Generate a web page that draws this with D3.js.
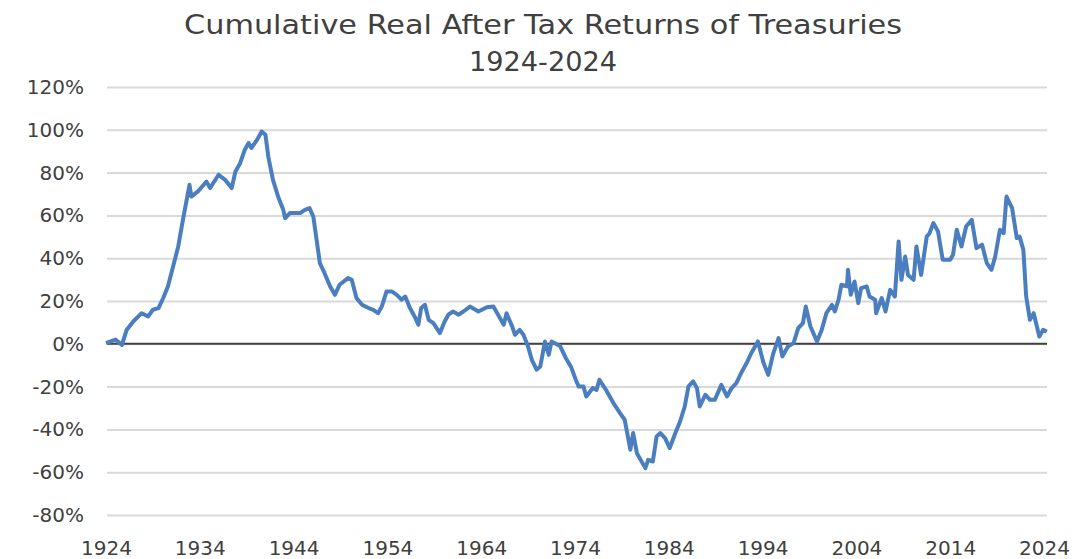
<!DOCTYPE html>
<html>
<head>
<meta charset="utf-8">
<title>Cumulative Real After Tax Returns of Treasuries</title>
<style>
  body { margin: 0; background: #fff; }
  svg text { font-family: "DejaVu Sans", "Open Sans", sans-serif; fill: #404040; }
  .grid line { stroke: #d9d9d9; stroke-width: 2; }
  .grid path { display: none; }
  .axis path, .axis line { display: none; }
</style>
</head>
<body>
<svg width="1081" height="559"></svg>
<script src="https://cdn.jsdelivr.net/npm/d3@7"></script>
<script>

// data (year, cumulative real after-tax return in %)
var years = [
  1924.0, 1925.0, 1925.7, 1926.2, 1926.9, 1927.8, 1928.5, 1929.0, 1929.6, 1930.1,
  1930.6, 1931.2, 1931.7, 1932.2, 1932.6, 1932.9, 1933.1, 1933.8, 1934.7, 1935.1,
  1936.0, 1936.7, 1937.4, 1937.8, 1938.3, 1938.8, 1939.2, 1939.5, 1940.1, 1940.6,
  1941.0, 1941.3, 1941.8, 1942.4, 1942.9, 1943.1, 1943.6, 1944.7, 1945.2, 1945.7,
  1946.1, 1946.5, 1946.8, 1947.3, 1947.9, 1948.4, 1948.9, 1949.8, 1950.2, 1950.7,
  1951.3, 1952.0, 1952.5, 1953.0, 1953.4, 1953.9, 1954.5, 1955.0, 1955.5, 1955.9,
  1956.4, 1956.9, 1957.3, 1957.6, 1958.0, 1958.4, 1958.9, 1959.6, 1960.1, 1960.5,
  1961.0, 1961.6, 1962.1, 1962.8, 1963.7, 1964.6, 1965.3, 1965.8, 1966.4, 1966.7,
  1967.3, 1967.6, 1968.1, 1968.5, 1969.0, 1969.4, 1969.9, 1970.3, 1970.8, 1971.2,
  1971.5, 1972.4, 1973.0, 1973.6, 1974.1, 1974.4, 1974.9, 1975.2, 1975.9, 1976.3,
  1976.6, 1977.3, 1978.1, 1978.8, 1979.3, 1979.9, 1980.2, 1980.6, 1981.5, 1981.8,
  1982.3, 1982.7, 1983.1, 1983.6, 1984.1, 1984.7, 1985.2, 1985.7, 1986.1, 1986.6,
  1987.0, 1987.3, 1987.9, 1988.4, 1988.9, 1989.6, 1990.2, 1990.7, 1991.2, 1991.8,
  1992.3, 1992.8, 1993.5, 1994.1, 1994.6, 1995.1, 1995.7, 1996.1, 1996.7, 1997.3,
  1997.8, 1998.3, 1998.6, 1999.1, 1999.8, 2000.3, 2000.8, 2001.4, 2001.7, 2002.1,
  2002.4, 2003.0, 2003.1, 2003.4, 2003.8, 2004.2, 2004.5, 2005.1, 2005.4, 2006.0,
  2006.1, 2006.7, 2007.1, 2007.6, 2008.1, 2008.5, 2008.8, 2009.2, 2009.5, 2010.1,
  2010.4, 2010.9, 2011.5, 2011.8, 2012.2, 2012.7, 2013.2, 2014.0, 2014.3, 2014.7,
  2015.2, 2015.7, 2016.3, 2016.8, 2017.4, 2017.9, 2018.4, 2018.8, 2019.3, 2019.7,
  2020.0, 2020.6, 2021.1, 2021.4, 2021.8, 2022.1, 2022.5, 2022.9, 2023.5, 2023.9,
  2024.3
];
var returns = [
  0.3, 2, -0.5, 6.5, 10.4, 14.3, 12.8, 15.9, 16.7, 21.4,
  26.8, 36.9, 45.5, 57.9, 67.3, 74.3, 68.8, 71.2, 75.8, 72.8,
  79, 76.6, 72.8, 80.5, 84.4, 90.7, 93.8, 91.5, 95.3, 99.2,
  97.7, 87.5, 76.6, 68.1, 62.6, 58.7, 61.1, 61.1, 62.6, 63.4,
  59.5, 47.1, 37.7, 33, 26.8, 22.9, 27.6, 30.7, 29.9, 21.4,
  18.2, 16.7, 15.9, 14.3, 17.4, 24.4, 24.4, 22.9, 20.6, 22.1,
  16.7, 12.8, 8.9, 16.7, 18.2, 11.2, 9.7, 5, 10.4, 13.6,
  15.1, 13.6, 15.1, 17.4, 15.1, 17.1, 17.4, 13.6, 8.9, 14.3,
  8.1, 4.2, 6.5, 4.2, -1.3, -7.5, -12.1, -10.6, 1.1, -5.1,
  1.1, -1, -6.5, -11, -17, -20, -19.9, -24.6, -20.7, -21.5,
  -16.8, -21.5, -27.7, -32.4, -35.5, -49.5, -41.7, -51.1, -58.1, -54.2,
  -55, -43.3, -41.7, -44.1, -48.7, -41.7, -36.3, -29.3, -19.9, -17.6,
  -20.7, -29.3, -23.8, -26.2, -26.2, -19.2, -24.6, -20.7, -18.4, -12.9,
  -9, -4.3, 1.1, -9, -14.5, -5.1, 2.7, -5.9, -1.3, 0.3,
  7.3, 9.7, 17.4, 8.1, 1.1, 6.5, 14.3, 18.2, 15.1, 20.6,
  27.6, 26.8, 34.6, 22.9, 29.1, 19, 26, 26.8, 22.1, 20.6,
  14.3, 21.4, 15.1, 25.2, 22.1, 47.8, 29.9, 40.8, 32.2, 29.9,
  45.5, 32.2, 50.1, 51.7, 56.4, 52.5, 39.3, 39.3, 41.6, 53.3,
  45.5, 54.8, 57.9, 44.7, 46.3, 37.7, 34.6, 40.8, 53.3, 51.7,
  68.8, 63.4, 49.4, 50.1, 43.9, 22.1, 11.2, 14.3, 3.4, 6.5,
  5.7
];
var yTicks = [-80, -60, -40, -20, 0, 20, 40, 60, 80, 100, 120];
var xTicks = [1924, 1934, 1944, 1954, 1964, 1974, 1984, 1994, 2004, 2014, 2024];
var titleLines = ["Cumulative Real After Tax Returns of Treasuries", "1924-2024"];

var svg = d3.select("svg");

var x = d3.scaleLinear().domain([1924, 2024]).range([106, 1044]);
var y = d3.scaleLinear().domain([-80, 120]).range([515, 87]);

// gridlines
svg.append("g")
  .attr("class", "grid")
  .attr("transform", "translate(1047,0)")
  .call(d3.axisLeft(y).tickValues(yTicks).tickSize(940).tickFormat(""));

// zero line
svg.append("line")
  .attr("x1", 107).attr("x2", 1047)
  .attr("y1", y(0)).attr("y2", y(0))
  .attr("stroke", "#404040")
  .attr("stroke-width", 2);

// y axis labels
var yAxis = svg.append("g")
  .attr("class", "axis")
  .attr("transform", "translate(84,0)")
  .call(d3.axisLeft(y).tickValues(yTicks).tickSize(0).tickPadding(0)
    .tickFormat(function(d) { return d + "%"; }));
yAxis.selectAll("text").attr("font-size", 20).attr("fill", "#404040");

// x axis labels
var xAxis = svg.append("g")
  .attr("class", "axis")
  .attr("transform", "translate(0,541)")
  .call(d3.axisBottom(x).tickValues(xTicks).tickSize(0).tickPadding(0)
    .tickFormat(d3.format("d")));
xAxis.selectAll("text").attr("font-size", 20).attr("fill", "#404040");

// the line
var line = d3.line()
  .x(function(d, i) { return x(years[i]); })
  .y(function(d) { return y(d); });

svg.append("path")
  .datum(returns)
  .attr("fill", "none")
  .attr("stroke", "#4a7ebf")
  .attr("stroke-width", 4)
  .attr("stroke-linejoin", "round")
  .attr("d", line);

// title
svg.append("g")
  .selectAll("text")
  .data(titleLines)
  .enter().append("text")
  .attr("x", 543)
  .attr("y", function(d, i) { return 34 + i * 37; })
  .attr("text-anchor", "middle")
  .attr("font-size", 27)
  .attr("fill", "#262626")
  .attr("textLength", function(d, i) { return i === 0 ? 718 : 148; })
  .attr("lengthAdjust", "spacingAndGlyphs")
  .text(function(d) { return d; });

</script>
</body>
</html>
